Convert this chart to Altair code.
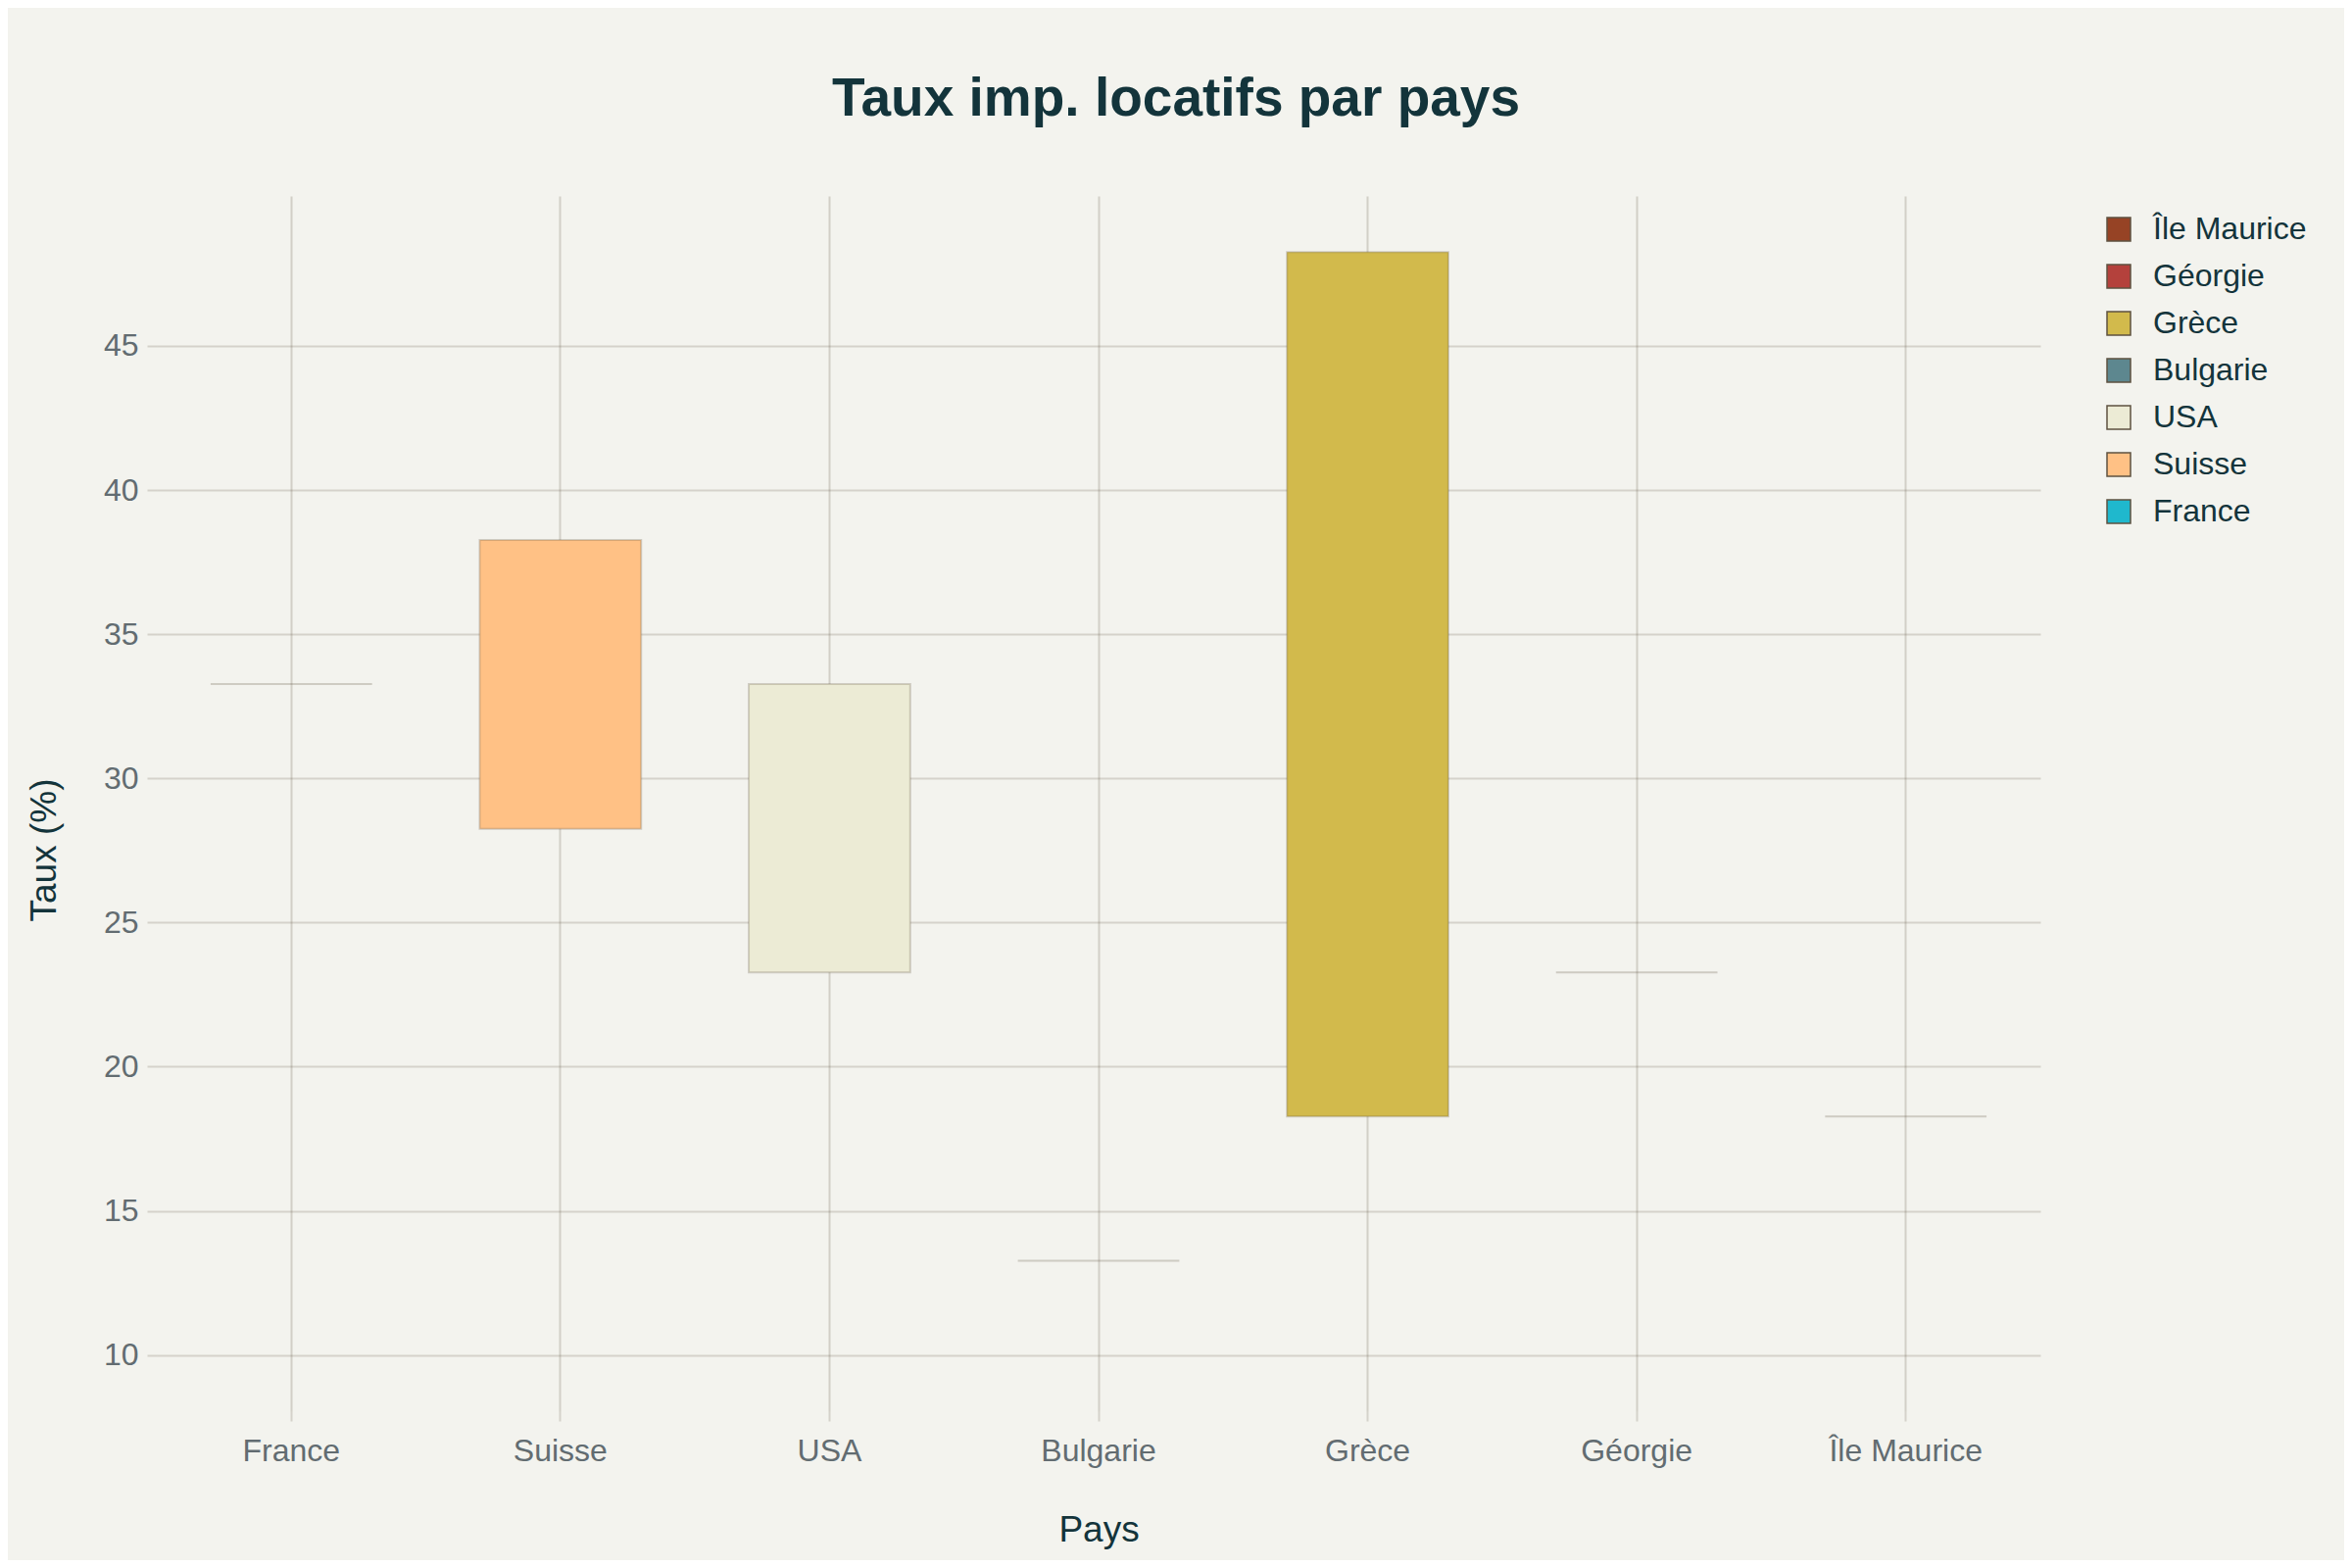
import altair as alt
import pandas as pd

countries = ["France", "Suisse", "USA", "Bulgarie", "Grèce", "Géorgie", "Île Maurice"]
low_vals = [33.27, 28.25, 23.27, 13.27, 18.27, 23.27, 18.27]
high_vals = [33.27, 38.27, 33.27, 13.27, 48.25, 23.27, 18.27]
colors = ["#1FB8CD", "#FFC185", "#ECEBD5", "#5D878F", "#D2BA4C", "#B4413C", "#964325"]
y_ticks = [10, 15, 20, 25, 30, 35, 40, 45]

df = pd.DataFrame({"Pays": countries, "low": low_vals, "high": high_vals})

FONT = "Liberation Sans"
TEXT = "#13343B"
SUB = "#626C71"
BG = "#F3F3EE"

W, H = 1922, 1240

bars = alt.Chart(df).mark_bar(
    stroke="#5E5240", strokeOpacity=0.25, strokeWidth=2, opacity=1
).encode(
    x=alt.X(
        "Pays:N",
        sort=countries,
        scale=alt.Scale(paddingInner=0.4, paddingOuter=0.2),
        axis=alt.Axis(
            title="Pays",
            labelAngle=0,
            labelFont=FONT, labelFontSize=32, labelColor=SUB,
            labelBaseline="alphabetic", labelPadding=40,
            titleFont=FONT, titleFontSize=37, titleColor=TEXT, titleFontWeight="normal",
            titleX=W / 2, titleY=132, titleAlign="center", titleBaseline="alphabetic",
            domain=False, ticks=True, tickSize=10, tickColor="#5E5240", tickOpacity=0.2, tickWidth=2,
            grid=True, gridColor="#5E5240", gridOpacity=0.22, gridWidth=2,
            bandPosition=0.5,
        ),
    ),
    y=alt.Y(
        "low:Q",
        scale=alt.Scale(domain=[8.05, 50.2], nice=False, zero=False),
        axis=alt.Axis(
            title="Taux (%)",
            values=y_ticks,
            labelFont=FONT, labelFontSize=32, labelColor=SUB, labelPadding=9,
            titleFont=FONT, titleFontSize=37, titleColor=TEXT, titleFontWeight="normal",
            titleX=-115, titleY=667, titleAngle=270, titleAlign="center", titleBaseline="middle",
            domain=False, ticks=True, tickSize=10, tickColor="#5E5240", tickOpacity=0.2, tickWidth=2,
            grid=True, gridColor="#5E5240", gridOpacity=0.2, gridWidth=2,
        ),
    ),
    y2="high:Q",
    color=alt.Color(
        "Pays:N",
        scale=alt.Scale(domain=countries[::-1], range=colors[::-1]),
        legend=alt.Legend(
            title=None,
            orient="none", legendX=1986, legendY=18,
            padding=0,
            symbolType="square", symbolSize=576,
            symbolStrokeColor="#5E5240", symbolStrokeWidth=1.5, symbolOpacity=1,
            labelFont=FONT, labelFontSize=32, labelColor=TEXT, labelOffset=19,
            rowPadding=16,
        ),
    ),
)

chart = bars.properties(
    width=W,
    height=H,
    background=BG,
    autosize=alt.AutoSizeParams(type="none"),
    padding={"left": 152, "top": 192, "right": 310, "bottom": 152},
    title=alt.TitleParams(
        text="Taux imp. locatifs par pays",
        font=FONT, fontSize=55, fontWeight="bold", color=TEXT,
        anchor="middle", frame="group", baseline="alphabetic",
        offset=27, dx=79,
    ),
).configure_view(stroke=None)

chart.save("out.html", embed_options={"renderer": "svg", "actions": False})
